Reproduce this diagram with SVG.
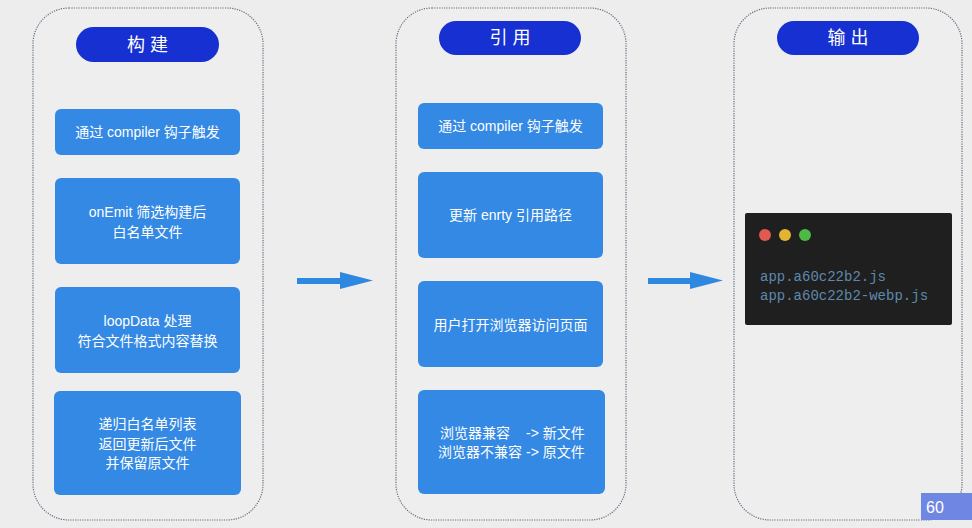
<svg xmlns="http://www.w3.org/2000/svg" width="972" height="528" viewBox="0 0 972 528">
<style>
.bg{fill:#ededed}
.frame{fill:#eeeeee;stroke:#5f6f80;stroke-width:1.2;stroke-dasharray:1.2 1.2}
.pill{fill:#1630d2}
.ptxt{fill:#ffffff;font-family:"Liberation Sans","Noto Sans CJK SC",sans-serif;font-size:18px;letter-spacing:5px;text-anchor:middle;dominant-baseline:central}
.box{fill:#3489e4}
.btxt{fill:#ffffff;font-family:"Liberation Sans","Noto Sans CJK SC",sans-serif;font-size:14px;text-anchor:middle;dominant-baseline:central}
.code{fill:#5d89ad;font-family:"Liberation Mono","DejaVu Sans Mono",monospace;font-size:14px}
.arrow{fill:#2f88e0}
</style>
<rect class="bg" x="0" y="0" width="972" height="528"/>

<g id="col-build">
  <rect class="frame" x="33" y="8" width="230" height="512" rx="36"/>
  <g id="title-build"><rect class="pill" x="76" y="27" width="143" height="35" rx="17.5"/><text class="ptxt" x="150" y="44.5">构建</text></g>
  <g id="b1"><rect class="box" x="55" y="109" width="185" height="46" rx="6"/><text class="btxt" x="147.5" y="132">通过 compiler 钩子触发</text></g>
  <g id="b2"><rect class="box" x="55" y="178" width="185" height="86" rx="6"/><text class="btxt" x="147.5" y="212">onEmit 筛选构建后</text><text class="btxt" x="147.5" y="232">白名单文件</text></g>
  <g id="b3"><rect class="box" x="55" y="287" width="185" height="86" rx="6"/><text class="btxt" x="147.5" y="321">loopData 处理</text><text class="btxt" x="147.5" y="341">符合文件格式内容替换</text></g>
  <g id="b4"><rect class="box" x="54" y="391" width="187" height="104" rx="6"/><text class="btxt" x="147.5" y="424">递归白名单列表</text><text class="btxt" x="147.5" y="443.5">返回更新后文件</text><text class="btxt" x="147.5" y="463">并保留原文件</text></g>
</g>

<g id="col-ref">
  <rect class="frame" x="396" y="8" width="230" height="512" rx="36"/>
  <g id="title-ref"><rect class="pill" x="439" y="21" width="142" height="34" rx="17"/><text class="ptxt" x="512.5" y="38">引用</text></g>
  <g id="r1"><rect class="box" x="418" y="103" width="185" height="46" rx="6"/><text class="btxt" x="510.5" y="126">通过 compiler 钩子触发</text></g>
  <g id="r2"><rect class="box" x="418" y="172" width="185" height="86" rx="6"/><text class="btxt" x="510.5" y="215">更新 enrty 引用路径</text></g>
  <g id="r3"><rect class="box" x="418" y="281" width="185" height="86" rx="6"/><text class="btxt" x="510.5" y="325">用户打开浏览器访问页面</text></g>
  <g id="r4"><rect class="box" x="418" y="390" width="187" height="104" rx="6"/>
    <text class="btxt" x="475" y="433">浏览器兼容</text><text class="btxt" x="526" y="433" style="text-anchor:start">-&gt; 新文件</text>
    <text class="btxt" x="480" y="452">浏览器不兼容</text><text class="btxt" x="526" y="452" style="text-anchor:start">-&gt; 原文件</text>
  </g>
</g>

<g id="col-out">
  <rect class="frame" x="734" y="8" width="228" height="512" rx="36"/>
  <g id="title-out"><rect class="pill" x="777" y="21" width="142" height="34" rx="17"/><text class="ptxt" x="850.5" y="38">输出</text></g>
  <g id="code">
    <rect x="745" y="213" width="207" height="112" rx="2" fill="#1f1f1f"/>
    <circle cx="765" cy="235" r="6" fill="#e05a50"/>
    <circle cx="785" cy="235" r="6" fill="#e3b332"/>
    <circle cx="805" cy="235" r="6" fill="#4cba45"/>
    <text class="code" x="760" y="281">app.a60c22b2.js</text>
    <text class="code" x="760" y="300">app.a60c22b2-webp.js</text>
  </g>
</g>

<g id="connectors">
  <path class="arrow" d="M297,278 H340 V272 L373,280.5 L340,289 V284 H297 Z"/>
  <path class="arrow" d="M648,278 H690 V272 L723,280.5 L690,289 V284 H648 Z"/>
</g>

<g id="page">
  <rect x="921" y="493" width="51" height="27" fill="#6f86e2"/>
  <text x="926" y="513" fill="#ffffff" font-family="'Liberation Sans',sans-serif" font-size="16">60</text>
</g>
</svg>
